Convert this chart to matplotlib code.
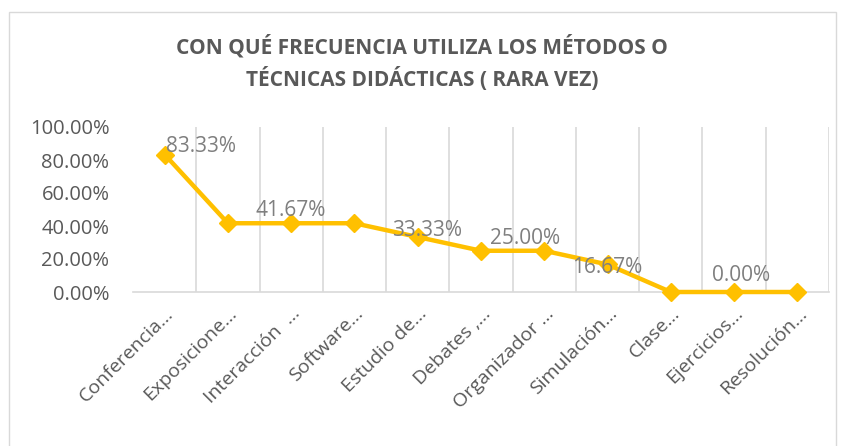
import matplotlib.pyplot as plt
from matplotlib.patches import Rectangle
from matplotlib.ticker import PercentFormatter

categorias = ["Conferencia…", "Exposicione…", "Interacción  …", "Software…",
              "Estudio de…", "Debates ,…", "Organizador …", "Simulación…",
              "Clase…", "Ejercicios…", "Resolución…"]
valores = [0.8333, 0.4167, 0.4167, 0.4167, 0.3333, 0.25, 0.25, 0.1667, 0.0, 0.0, 0.0]

# puntos con etiqueta de dato y su desplazamiento (px) respecto al punto
etiquetas = {0: (1, 6), 2: (0, 9), 4: (7, 5), 6: (-14, 9), 7: (0, -2), 9: (5, 12)}

gris = "#595959"
plt.rcParams['font.family'] = ['Open Sans', 'DejaVu Sans']

fig = plt.figure(figsize=(8.44, 4.46), dpi=100)
fig.patches.append(Rectangle((9 / 844, -0.05), 827 / 844, 1 - 12 / 446 + 0.05,
                             transform=fig.transFigure, fill=False,
                             edgecolor="#D9D9D9", lw=1))
ax = fig.add_axes([133 / 844, 1 - 292 / 446, 696 / 844, 165 / 446])

x = list(range(len(valores)))
ax.plot(x, valores, color="#FFC000", lw=3.2, marker="D", markersize=9,
        zorder=3, clip_on=False)

for i, (dx, dy) in etiquetas.items():
    ax.annotate(f"{valores[i] * 100:.2f}%", (x[i], valores[i]),
                xytext=(dx, dy), textcoords="offset points",
                ha="center" if i else "left", va="center",
                fontsize=15, color="#7F7F7F", zorder=4)

ax.set_xlim(-0.5, len(valores) - 0.5)
ax.set_ylim(0, 1)
for g in range(len(valores)):
    ax.axvline(g + 0.5, color="#D9D9D9", lw=1.2, zorder=1)

ax.set_yticks([0, 0.2, 0.4, 0.6, 0.8, 1.0])
ax.yaxis.set_major_formatter(PercentFormatter(1.0, decimals=2))
ax.set_xticks(x)
ax.set_xticklabels(categorias, rotation=45, ha="right", rotation_mode="anchor")
ax.tick_params(axis="both", length=0, colors=gris)
ax.tick_params(axis="y", labelsize=14.5, pad=17)
ax.tick_params(axis="x", labelsize=14, pad=9)
for s in ["top", "right", "left"]:
    ax.spines[s].set_visible(False)
ax.spines["bottom"].set_color("#D9D9D9")
ax.spines["bottom"].set_linewidth(1.2)

fig.text(0.5, 1 - 63 / 446,
         "CON QUÉ FRECUENCIA UTILIZA LOS MÉTODOS O\nTÉCNICAS DIDÁCTICAS ( RARA VEZ)",
         ha="center", va="center", fontsize=15, fontweight="bold",
         color=gris, linespacing=1.45)

fig.savefig("out.png", dpi=100)
